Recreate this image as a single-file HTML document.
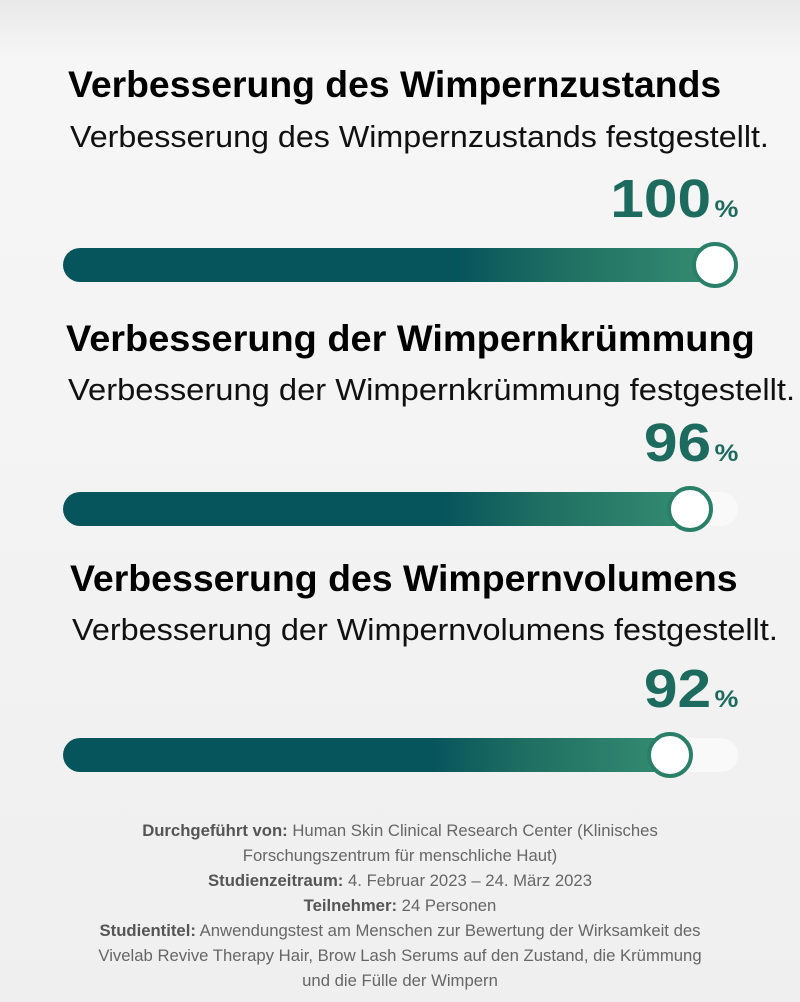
<!DOCTYPE html>
<html><head><style>
body{margin:0;width:800px;height:1002px;overflow:hidden;background:linear-gradient(180deg,#e9e9e9 0px,#f6f6f6 60px,#f3f3f3 500px,#efefef 1002px);font-family:"Liberation Sans",sans-serif;position:relative}
.t{position:absolute;left:0;font-weight:bold;font-size:37px;color:#000;white-space:nowrap;transform-origin:left}
.s{position:absolute;font-size:31px;color:#111;white-space:nowrap;transform-origin:left}
.p{position:absolute;right:62px;font-weight:bold;font-size:54px;color:#1d6b5e;white-space:nowrap;transform:scaleX(1.12);transform-origin:right}
.p span{font-size:24px;margin-left:3px}
.track{position:absolute;left:63px;width:675px;height:34px;border-radius:17px;background:#f9f9f9}
.bar{position:absolute;left:63px;height:34px;border-radius:17px;background:linear-gradient(90deg,#07555c 0%,#07555c 60%,#1f6e62 75%,#358e72 100%)}
.c{position:absolute;width:38px;height:38px;border-radius:50%;background:#fff;border:4px solid #2a7f68}
.f{position:absolute;left:0;width:800px;text-align:center;font-size:16.7px;color:#666;line-height:25px;top:818px}
.f b{color:#555}
</style></head><body>
<div class="t" style="left:68px;top:64px;transform:scaleX(1.009)">Verbesserung des Wimpernzustands</div>
<div class="s" style="left:70px;top:119px;transform:scaleX(1.04)">Verbesserung des Wimpernzustands festgestellt.</div>
<div class="p" style="top:168px">100<span>%</span></div>
<div class="track" style="top:248px"></div>
<div class="bar" style="top:248px;width:660px"></div>
<div class="c" style="left:692px;top:242px"></div>

<div class="t" style="left:66px;top:318px;transform:scaleX(1.025)">Verbesserung der Wimpernkrümmung</div>
<div class="s" style="left:68px;top:372px;transform:scaleX(1.055)">Verbesserung der Wimpernkrümmung festgestellt.</div>
<div class="p" style="top:412px">96<span>%</span></div>
<div class="track" style="top:492px"></div>
<div class="bar" style="top:492px;width:635px"></div>
<div class="c" style="left:667px;top:486px"></div>

<div class="t" style="left:70px;top:558px;transform:scaleX(1.012)">Verbesserung des Wimpernvolumens</div>
<div class="s" style="left:72px;top:612px;transform:scaleX(1.045)">Verbesserung der Wimpernvolumens festgestellt.</div>
<div class="p" style="top:658px">92<span>%</span></div>
<div class="track" style="top:738px"></div>
<div class="bar" style="top:738px;width:615px"></div>
<div class="c" style="left:647px;top:732px"></div>

<div class="f"><b>Durchgeführt von:</b> Human Skin Clinical Research Center (Klinisches<br>Forschungszentrum für menschliche Haut)<br><b>Studienzeitraum:</b> 4. Februar 2023 – 24. März 2023<br><b>Teilnehmer:</b> 24 Personen<br><b>Studientitel:</b> Anwendungstest am Menschen zur Bewertung der Wirksamkeit des<br>Vivelab Revive Therapy Hair, Brow Lash Serums auf den Zustand, die Krümmung<br>und die Fülle der Wimpern</div>
</body></html>
